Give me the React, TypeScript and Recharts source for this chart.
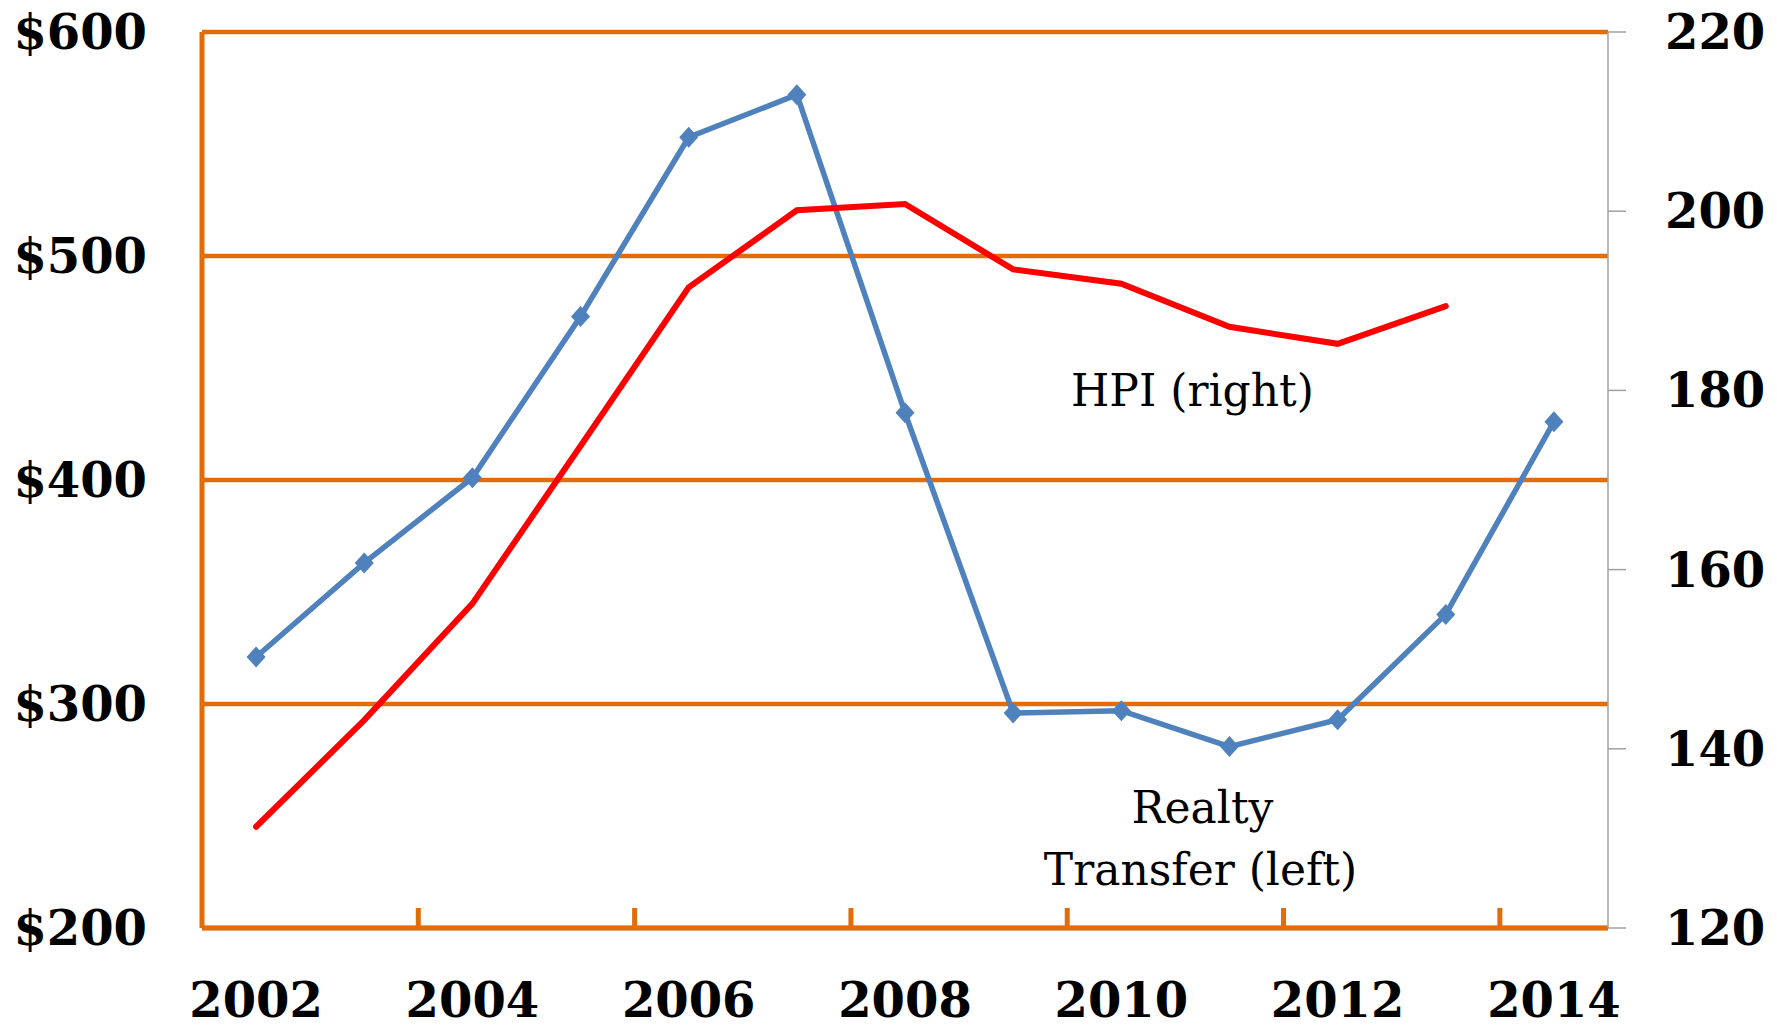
import React from "react";
import {
  ComposedChart,
  Line,
  XAxis,
  YAxis,
  CartesianGrid,
  ReferenceDot,
} from "recharts";

// page has default 8px margin; chart sits at the corner
document.body.style.margin = "0";

const years = ["2002", "2003", "2004", "2005", "2006", "2007", "2008", "2009", "2010", "2011", "2012", "2013", "2014"];
// realty transfer revenue ($, left axis)
const realty = [321, 363, 401, 473, 553, 572, 430, 296, 297, 281, 293, 340, 426];
// house price index (right axis), no 2014 value
const hpi = [131.3, 143.2, 156.2, 173.8, 191.5, 200.1, 200.8, 193.5, 191.9, 187.1, 185.2, 189.4, null];

const leftTicks = [200, 300, 400, 500, 600];
const rightTicks = [120, 140, 160, 180, 200, 220];

const ORANGE = "#E36C0A";
const BLUE = "#4F81BD";
const RED = "#FF0000";
const GREY = "#A0A0A0";
const FONT = "'DejaVu Serif', serif";

const data = years.map((y, i) => ({ year: y, realty: realty[i], hpi: hpi[i] }));

const LeftTick = (p: any) => (
  <text x={p.x} y={p.y} textAnchor="end" dominantBaseline="central" fontFamily={FONT} fontWeight="bold" fontSize={48} fill="#000">
    {"$" + p.payload.value}
  </text>
);

const RightTick = (p: any) => (
  <text x={p.x} y={p.y} textAnchor="start" dominantBaseline="central" fontFamily={FONT} fontWeight="bold" fontSize={48} fill="#000">
    {p.payload.value}
  </text>
);

// label in the middle of the category, tick mark on its left boundary (Excel style)
const YearTick = (p: any) => {
  const half = p.payload.offset || 0;
  const first = p.payload.value === years[0];
  return (
    <g>
      {!first && half > 0 && (
        <line x1={p.x - half} x2={p.x - half} y1={p.y} y2={p.y - 20} stroke={ORANGE} strokeWidth={5} />
      )}
      <text x={p.x} y={p.y + 72} textAnchor="middle" dominantBaseline="central" fontFamily={FONT} fontWeight="bold" fontSize={48} fill="#000">
        {p.payload.value}
      </text>
    </g>
  );
};

const Diamond = (p: any) => {
  const { cx, cy, index } = p;
  if (cx == null || cy == null) return <g key={index} />;
  return (
    <polygon
      key={index}
      points={`${cx},${cy - 10.5} ${cx + 9.5},${cy} ${cx},${cy + 10.5} ${cx - 9.5},${cy}`}
      fill={BLUE}
    />
  );
};

const note = (text: string, dx: number) => (p: any) => (
  <text x={p.cx + dx} y={p.cy} textAnchor="middle" dominantBaseline="central" fontFamily={FONT} fontSize={44} fill="#000">
    {text}
  </text>
);

export default function App() {
  return (
    <div style={{ width: 1777, height: 1027, background: "#fff" }}>
      <ComposedChart width={1777} height={1027} data={data} margin={{ top: 32, right: 0, bottom: 0, left: 0 }}>
        <CartesianGrid yAxisId="left" vertical={false} stroke={ORANGE} strokeWidth={4.5} />
        <XAxis
          dataKey="year"
          scale="band"
          height={99}
          interval={1}
          axisLine={{ stroke: ORANGE, strokeWidth: 5 }}
          tickLine={false}
          tickSize={0}
          tickMargin={0}
          tick={<YearTick />}
        />
        <YAxis
          yAxisId="left"
          width={202}
          domain={[200, 600]}
          ticks={leftTicks}
          axisLine={{ stroke: ORANGE, strokeWidth: 5 }}
          tickLine={false}
          tickSize={0}
          tickMargin={55}
          tick={<LeftTick />}
        />
        <YAxis
          yAxisId="right"
          orientation="right"
          width={169}
          domain={[120, 220]}
          ticks={rightTicks}
          axisLine={{ stroke: GREY, strokeWidth: 1.5 }}
          tickLine={{ stroke: GREY, strokeWidth: 1.5 }}
          tickSize={18}
          tickMargin={39}
          tick={<RightTick />}
        />
        <Line
          yAxisId="left"
          dataKey="realty"
          stroke={BLUE}
          strokeWidth={5.5}
          dot={Diamond}
          activeDot={false}
          isAnimationActive={false}
        />
        <Line
          yAxisId="right"
          dataKey="hpi"
          stroke={RED}
          strokeWidth={6}
          strokeLinecap="round"
          dot={false}
          activeDot={false}
          isAnimationActive={false}
        />
        <ReferenceDot yAxisId="right" x="2011" y={180} r={0} shape={note("HPI (right)", -37)} />
        <ReferenceDot yAxisId="left" x="2011" y={254} r={0} shape={note("Realty", -27)} />
        <ReferenceDot yAxisId="left" x="2011" y={226} r={0} shape={note("Transfer (left)", -29)} />
      </ComposedChart>
    </div>
  );
}
